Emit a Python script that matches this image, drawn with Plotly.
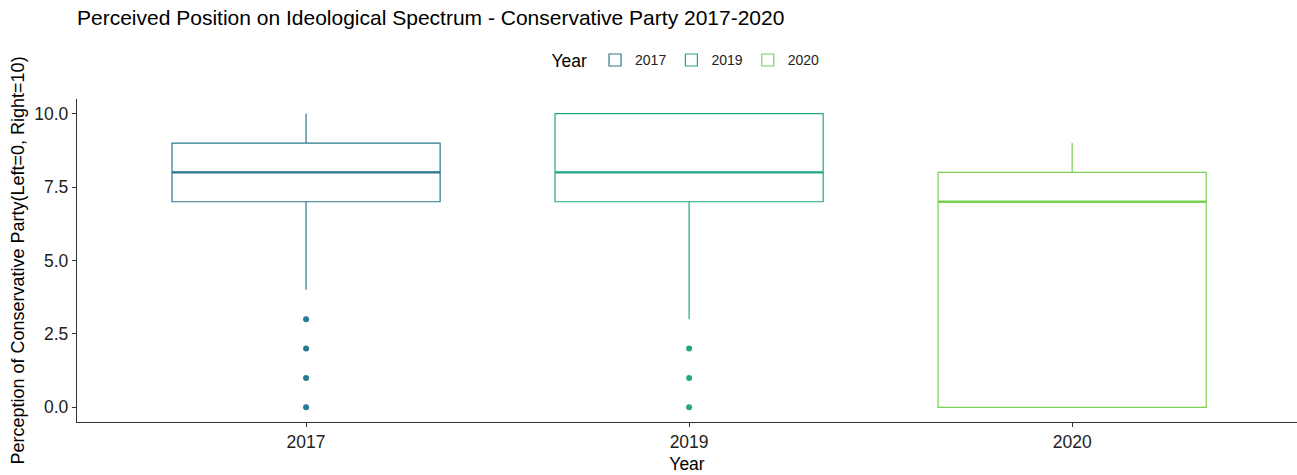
import plotly.graph_objects as go

years = ["2017", "2019", "2020"]
q1 = [7, 7, 0]
median = [8, 8, 7]
q3 = [9, 10, 8]
lower_whisker = [4, 3, 0]
upper_whisker = [10, 10, 9]
outliers = {
    "2017": [3, 2, 1, 0],
    "2019": [2, 1, 0],
    "2020": [],
}
colors = ["#2A788E", "#22A884", "#7AD151"]
y_ticks = [0, 2.5, 5.0, 7.5, 10.0]

BOX_W = 0.7
FONT = "Liberation Sans, Arial, sans-serif"

fig = go.Figure()
for i, yr in enumerate(years):
    fig.add_trace(go.Box(
        x=[i], q1=[q1[i]], median=[median[i]], q3=[q3[i]],
        lowerfence=[lower_whisker[i]], upperfence=[upper_whisker[i]],
        name=yr, legendgroup=yr, width=BOX_W, whiskerwidth=0,
        fillcolor="white", line=dict(color=colors[i], width=1.2),
        boxpoints=False, hoverinfo="skip",
    ))
    # thicker median line (ggplot style)
    fig.add_trace(go.Scatter(
        x=[i - BOX_W / 2, i + BOX_W / 2], y=[median[i], median[i]],
        mode="lines", line=dict(color=colors[i], width=2.4),
        showlegend=False, legendgroup=yr, hoverinfo="skip",
    ))
    if outliers[yr]:
        fig.add_trace(go.Scatter(
            x=[i] * len(outliers[yr]), y=outliers[yr], mode="markers",
            marker=dict(color=colors[i], size=6),
            showlegend=False, legendgroup=yr, hoverinfo="skip",
        ))

fig.update_layout(
    width=1297, height=475,
    margin=dict(l=77, r=0, t=99, b=53),
    paper_bgcolor="white", plot_bgcolor="white",
    font=dict(family=FONT, color="#222222"),
    title=dict(
        text="Perceived Position on Ideological Spectrum - Conservative Party 2017-2020",
        x=77 / 1297, xanchor="left", y=1 - 18 / 475, yanchor="middle",
        font=dict(size=21, color="black", family=FONT),
    ),
    legend=dict(
        orientation="h", x=0.5, xanchor="center", y=1.118, yanchor="middle",
        title=dict(text="Year", font=dict(size=17.5, color="black")),
        font=dict(size=14, color="#222222"),
        itemwidth=30, tracegroupgap=0,
    ),
    xaxis=dict(
        range=[-0.598, 2.587], tickmode="array", tickvals=[0, 1, 2], ticktext=years,
        showline=True, linecolor="#333333", linewidth=1.3, mirror=False,
        ticks="outside", ticklen=4, tickcolor="#333333", showgrid=False, zeroline=False,
        tickfont=dict(size=17.5, color="#222222"),
        title=dict(text="Year", font=dict(size=17.5, color="black"), standoff=6),
    ),
    yaxis=dict(
        range=[-0.5, 10.5], tickmode="array", tickvals=y_ticks,
        ticktext=[f"{v:.1f}" for v in y_ticks],
        showline=True, linecolor="#333333", linewidth=1.3,
        ticks="outside", ticklen=4, tickcolor="#333333", showgrid=False, zeroline=False,
        tickfont=dict(size=17.5, color="#222222"),
        title=dict(text="Perception of Conservative Party(Left=0, Right=10)",
                   font=dict(size=18, color="black"), standoff=4),
    ),
)

fig.write_html("out.html")
